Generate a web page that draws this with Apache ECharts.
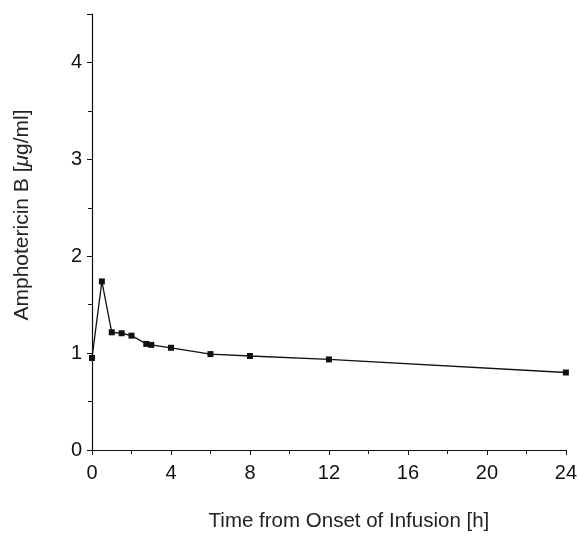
<!DOCTYPE html>
<html><head><meta charset="utf-8">
<script src="https://cdn.jsdelivr.net/npm/echarts@6/dist/echarts.min.js"></script>
<style>html,body{margin:0;padding:0;background:#fff}#c{width:580px;height:537px}</style>
</head><body><div id="c"></div>
<script>
var timeH = [0, 0.5, 1, 1.5, 2, 2.75, 3, 4, 6, 8, 12, 24];
var amphoB = [0.95, 1.74, 1.215, 1.205, 1.18, 1.095, 1.085, 1.055, 0.99, 0.97, 0.935, 0.80];
var xTicks = [0, 4, 8, 12, 16, 20, 24];
var yTicks = [0, 1, 2, 3, 4];

var chart = echarts.init(document.getElementById('c'), null, {renderer: 'canvas'});
var font = 'Liberation Sans, Arial, Helvetica, sans-serif';
chart.setOption({
  animation: false,
  backgroundColor: '#fff',
  grid: {left: 92, right: 12, top: 14, bottom: 81, containLabel: false},
  xAxis: {
    type: 'value', min: 0, max: 24, interval: 4,
    name: 'Time from Onset of Infusion [h]', nameLocation: 'middle', nameGap: 61,
    nameTextStyle: {color: '#222', fontSize: 20.5, fontFamily: font, padding: [0, 0, 0, 40]},
    axisLine: {show: true, lineStyle: {color: '#111', width: 1.2}},
    axisTick: {show: true, inside: false, length: 5, lineStyle: {color: '#111'}},
    minorTick: {show: true, splitNumber: 2, length: 4, lineStyle: {color: '#111'}},
    axisLabel: {color: '#111', fontSize: 20, fontFamily: font, margin: 13,
      formatter: function(v){ return xTicks.indexOf(v) >= 0 ? String(v) : ''; }},
    splitLine: {show: false}
  },
  yAxis: {
    type: 'value', min: 0, max: 4.5, interval: 1,
    name: 'Amphotericin B [{i|μ}g/ml]', nameLocation: 'middle', nameGap: 59,
    nameTextStyle: {color: '#222', fontSize: 21, fontFamily: font, padding: [0, 0, 0, 34],
      rich: {i: {fontStyle: 'italic', fontSize: 21, fontFamily: font, color: '#222'}}},
    axisLine: {show: true, lineStyle: {color: '#111', width: 1.2}},
    axisTick: {show: true, inside: false, length: 5, lineStyle: {color: '#111'}},
    minorTick: {show: true, splitNumber: 2, length: 4, lineStyle: {color: '#111'}},
    axisLabel: {color: '#111', fontSize: 20, fontFamily: font, margin: 10,
      formatter: function(v){ return yTicks.indexOf(v) >= 0 ? String(v) : ''; }},
    splitLine: {show: false}
  },
  series: [{
    type: 'line',
    data: timeH.map(function(t, i){ return [t, amphoB[i]]; }),
    symbol: 'rect', symbolSize: 6,
    lineStyle: {color: '#111', width: 1.3},
    itemStyle: {color: '#111'},
    clip: false
  }]
});
</script></body></html>
